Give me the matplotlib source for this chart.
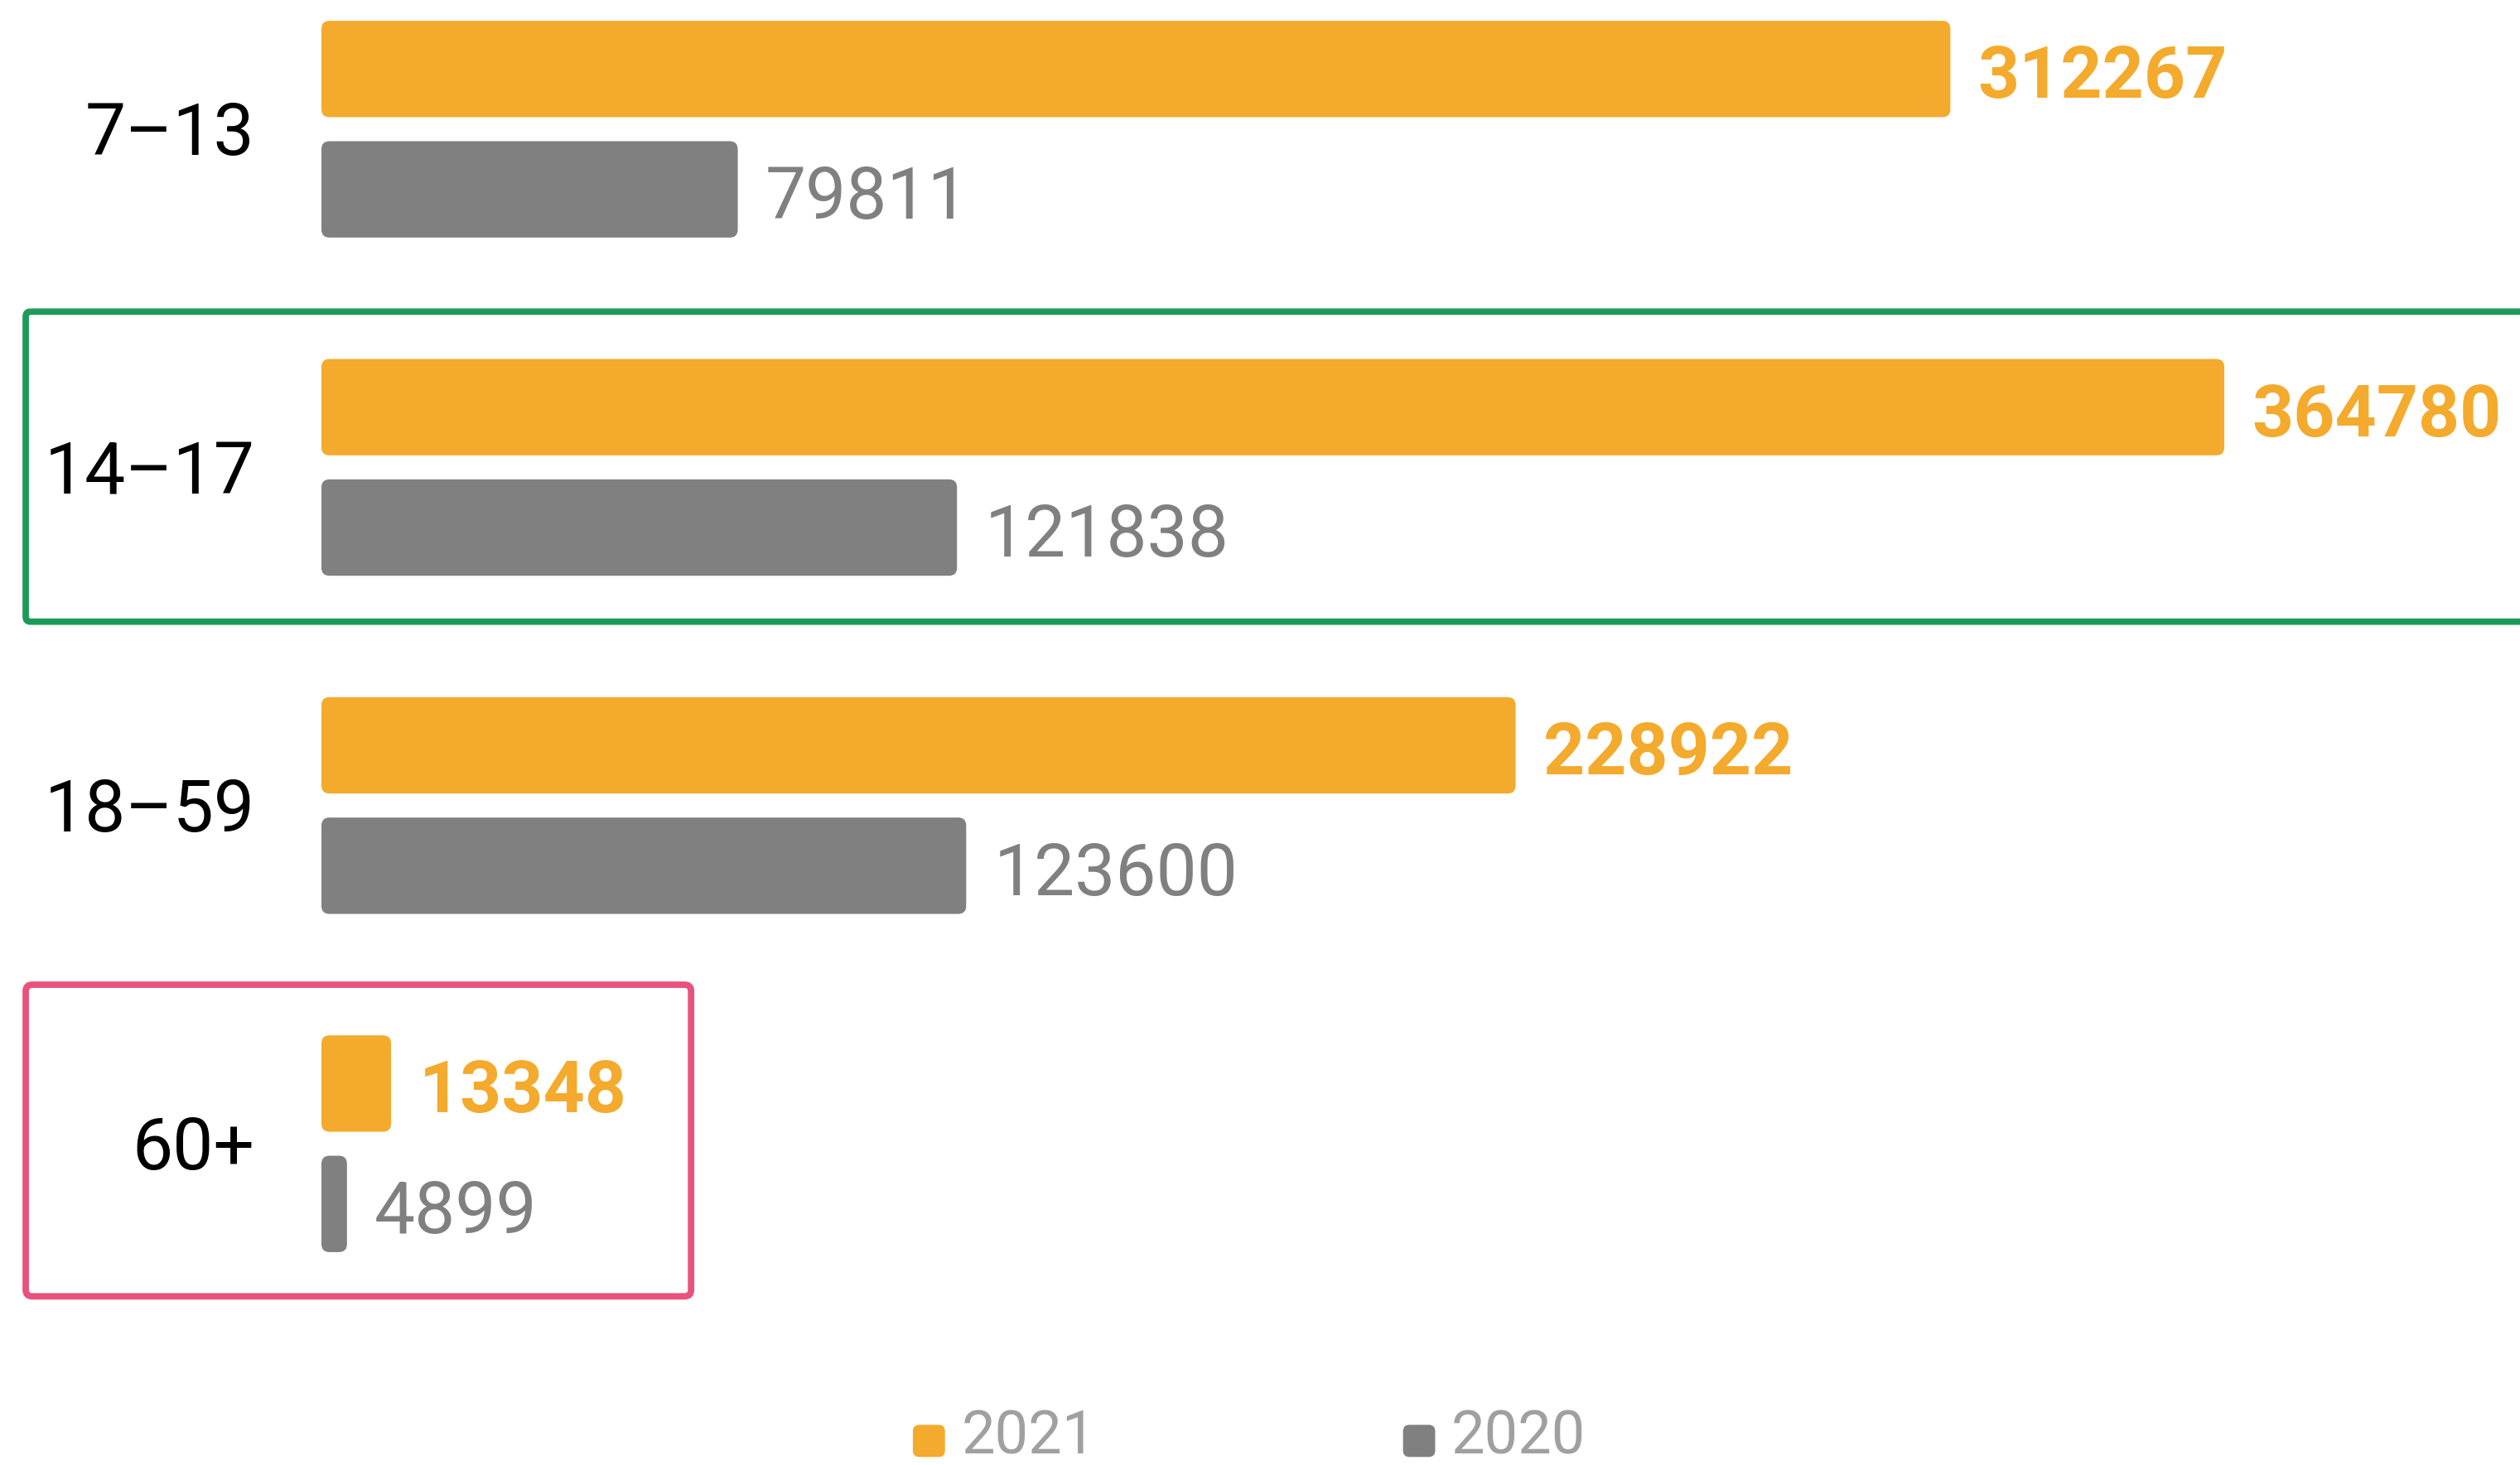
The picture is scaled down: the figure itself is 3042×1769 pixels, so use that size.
import numpy as np
import matplotlib.pyplot as plt
from matplotlib.patches import FancyBboxPatch

groups = ['7–13', '14–17', '18–59', '60+']
v2021 = [312267, 364780, 228922, 13348]
v2020 = [79811, 121838, 123600, 4899]
years = ['2021', '2020']

ORANGE = '#F4AA2C'
GREY = '#808080'
GREEN = '#1C9A5A'
PINK = '#E8527C'
LEGEND_TXT = '#A0A0A0'

plt.rcParams['font.family'] = ['Roboto', 'DejaVu Sans']

W, H = 1568, 912   # layout units (reference at half size)
fig = plt.figure(figsize=(30.42, 17.69), dpi=100)
fig.patch.set_facecolor('white')

# main axes: value on x, group index on y
ax = fig.add_axes([0, 0, 1, 1])
x0, x1 = 200 / W, 1384 / W
span = max(v2021) / (x1 - x0)
ax.set_xlim(-x0 * span, (1 - x0) * span)
ytop, ybot = -0.382, 3.95
ax.set_ylim(ybot, ytop)
ax.axis('off')

y = np.arange(len(groups))
off, h = 0.178, 0.285
b1 = ax.barh(y - off, v2021, height=h, color=ORANGE)
b2 = ax.barh(y + off, v2020, height=h, color=GREY)

# swap the plain bars for rounded ones
xupp = span / W
yupp = (ybot - ytop) / H
r = 5 * xupp
for bars in (b1, b2):
    for rect in bars:
        rx, ry = rect.get_x(), rect.get_y()
        rw, rh = rect.get_width(), rect.get_height()
        rr = min(r, rw / 2)
        p = FancyBboxPatch((rx, ry), rw, rh,
                           boxstyle=f"round,pad=0,rounding_size={rr}",
                           mutation_aspect=yupp / xupp,
                           fc=rect.get_facecolor(), ec='none')
        rect.remove()
        ax.add_patch(p)

# value labels
for i in range(len(groups)):
    ax.annotate(f'{v2021[i]}', xy=(v2021[i], y[i] - off), xytext=(24, -8),
                textcoords='offset points', ha='left', va='center',
                fontsize=63, color=ORANGE, fontweight='bold')
    ax.annotate(f'{v2020[i]}', xy=(v2020[i], y[i] + off), xytext=(24, -8),
                textcoords='offset points', ha='left', va='center',
                fontsize=63, color=GREY)
    ax.annotate(groups[i], xy=(0, y[i]), xytext=(-58, -5),
                textcoords='offset points', ha='right', va='center',
                fontsize=63, color='black')

# overlay for highlight boxes and legend
ov = fig.add_axes([0, 0, 1, 1], zorder=3)
ov.set_xlim(0, W)
ov.set_ylim(H, 0)
ov.axis('off')
ov.patch.set_alpha(0)

ov.add_patch(FancyBboxPatch((16, 194), 1600 - 16, 193,
                            boxstyle="round,pad=0,rounding_size=3",
                            fc='none', ec=GREEN, lw=5.6))
ov.add_patch(FancyBboxPatch((16, 613), 414, 194,
                            boxstyle="round,pad=0,rounding_size=4",
                            fc='none', ec=PINK, lw=5.6))

for (lx, col, lab) in [(568, ORANGE, years[0]), (873, GREY, years[1])]:
    ov.add_patch(FancyBboxPatch((lx, 887), 20, 20,
                                boxstyle="round,pad=0,rounding_size=4",
                                fc=col, ec='none'))
    ov.text(lx + 30, 905, lab, ha='left', va='baseline',
            fontsize=52, color=LEGEND_TXT)

fig.savefig('out.png', dpi=100, facecolor='white')
